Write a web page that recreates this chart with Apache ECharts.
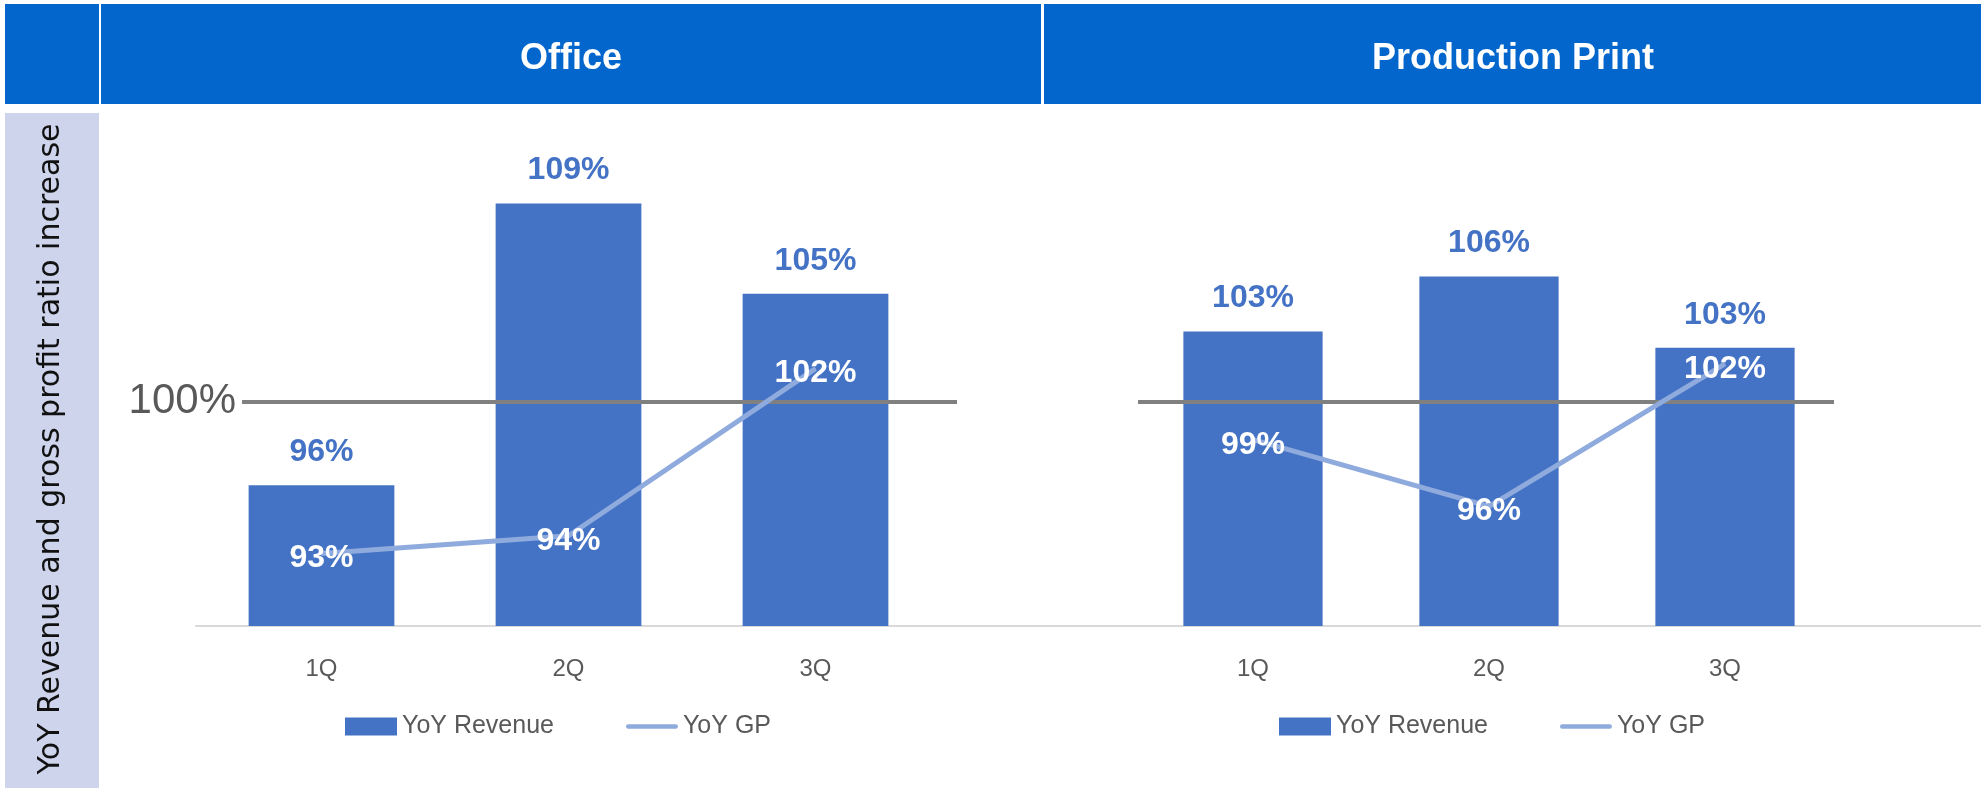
<!DOCTYPE html>
<html>
<head>
<meta charset="utf-8">
<script src="https://cdn.jsdelivr.net/npm/echarts@6/dist/echarts.min.js"></script>
<style>
  html, body { margin: 0; padding: 0; background: #ffffff; }
  #chart { width: 1981px; height: 788px; }
</style>
</head>
<body>
<div id="chart"></div>
<script>
// ---- data ----
const categories = ['1Q', '2Q', '3Q'];
const officeRevenue = [96.2, 109.0, 104.9];
const officeGP = [93.1, 93.9, 101.5];
const ppRevenue = [103.3, 105.7, 102.6];
const ppGP = [98.6, 95.7, 101.9];
const panelTitles = ['Office', 'Production Print'];
const sideTitle = 'YoY Revenue and gross profit ratio increase';
const seriesNames = ['YoY Revenue', 'YoY GP'];
const refValue = 100;
const refLabel = '100%';

// ---- styling ----
const FONT = 'Liberation Sans, Arial, sans-serif';
const BAR_COLOR = '#4472C4';
const LINE_COLOR = '#8FAADC';
const HEADER_COLOR = '#0366CC';
const GREY_TEXT = '#595959';
const pct = p => Math.round(p.value) + '%';

const chart = echarts.init(document.getElementById('chart'), null, { renderer: 'canvas' });

const barLabel = {
  show: true, position: 'top', distance: 17, formatter: pct,
  color: BAR_COLOR, fontFamily: FONT, fontWeight: 'bold', fontSize: 32, lineHeight: 32
};
const lineLabel = {
  show: true, position: 'inside', offset: [0, 5], formatter: pct,
  color: '#ffffff', fontFamily: FONT, fontWeight: 'bold', fontSize: 32, lineHeight: 32
};
const catAxis = (gridIndex) => ({
  type: 'category', gridIndex, data: categories,
  axisLine: { show: false }, axisTick: { show: false },
  axisLabel: { color: GREY_TEXT, fontFamily: FONT, fontSize: 24, margin: 31 }
});
const hiddenValueAxis = (gridIndex, min, max) => ({
  type: 'value', gridIndex, min, max, show: false
});

const legendCommon = {
  orient: 'horizontal', itemWidth: 52, itemHeight: 18, itemGap: 72,
  textStyle: { color: GREY_TEXT, fontFamily: FONT, fontSize: 25 },
  selectedMode: false,
  data: [
    { name: seriesNames[0], icon: 'rect' },
    { name: seriesNames[1], icon: 'path://M2.5,0 H53.5 A2.5,2.5 0 0 1 53.5,5 H2.5 A2.5,2.5 0 0 1 2.5,0 Z', itemStyle: { color: LINE_COLOR } }
  ]
};

const option = {
  backgroundColor: '#ffffff',
  animation: false,
  graphic: [
    { type: 'rect', shape: { x: 5, y: 4, width: 94, height: 100 }, style: { fill: HEADER_COLOR }, z: -10 },
    { type: 'rect', shape: { x: 101, y: 4, width: 940, height: 100 }, style: { fill: HEADER_COLOR }, z: -10 },
    { type: 'rect', shape: { x: 1044, y: 4, width: 937, height: 100 }, style: { fill: HEADER_COLOR }, z: -10 },
    { type: 'rect', shape: { x: 5, y: 113, width: 94, height: 675 }, style: { fill: '#CDD4EB' }, z: -10 },
    { type: 'text', x: 571, y: 59, style: { text: panelTitles[0], fill: '#ffffff', font: 'bold 36px ' + FONT, textAlign: 'center', textVerticalAlign: 'middle', align: 'center', verticalAlign: 'middle' } },
    { type: 'text', x: 1513, y: 59, style: { text: panelTitles[1], fill: '#ffffff', font: 'bold 36px ' + FONT, textAlign: 'center', textVerticalAlign: 'middle', align: 'center', verticalAlign: 'middle' } },
    { type: 'text', x: 51, y: 449, rotation: Math.PI / 2, style: { text: sideTitle, fill: '#111111', font: '30px DejaVu Sans, sans-serif', textAlign: 'center', textVerticalAlign: 'middle', align: 'center', verticalAlign: 'middle' } }
  ],
  grid: [
    { left: 198, width: 741, top: 186, height: 440 },   // 0 office
    { left: 1135, width: 708, top: 166, height: 460 },  // 1 production print
    { left: 196, right: 0, top: 186, height: 440 },     // 2 shared baseline
    { left: 242, width: 715, top: 186, height: 440 },   // 3 office 100% line
    { left: 1138, width: 696, top: 186, height: 440 }   // 4 PP 100% line (shared reference level)
  ],
  xAxis: [
    catAxis(0),
    catAxis(1),
    { type: 'value', gridIndex: 2, min: 0, max: 1, axisLine: { show: true, lineStyle: { color: '#D9D9D9', width: 2 } }, axisTick: { show: false }, axisLabel: { show: false }, splitLine: { show: false } },
    hiddenValueAxis(3, 0, 1),
    hiddenValueAxis(4, 0, 1)
  ],
  yAxis: [
    hiddenValueAxis(0, 89.8, 109.8),
    hiddenValueAxis(1, 90.5, 110.5),
    hiddenValueAxis(2, 0, 1),
    hiddenValueAxis(3, 89.8, 109.8),
    hiddenValueAxis(4, 89.8, 109.8)
  ],
  legend: [
    Object.assign({ left: 340, top: 709 }, legendCommon),
    Object.assign({ left: 1274, top: 709 }, legendCommon)
  ],
  series: [
    { name: seriesNames[0], type: 'bar', xAxisIndex: 0, yAxisIndex: 0, data: officeRevenue, barWidth: '59%', itemStyle: { color: BAR_COLOR }, label: barLabel, z: 2 },
    { name: seriesNames[0], type: 'bar', xAxisIndex: 1, yAxisIndex: 1, data: ppRevenue, barWidth: '59%', itemStyle: { color: BAR_COLOR }, label: barLabel, z: 2 },
    {
      type: 'line', xAxisIndex: 3, yAxisIndex: 3, data: [], z: 3, silent: true,
      markLine: { silent: true, symbol: ['none', 'none'], lineStyle: { color: '#808080', width: 4, type: 'solid' },
        label: { show: true, position: 'start', distance: 6, formatter: refLabel, color: GREY_TEXT, fontFamily: FONT, fontSize: 42 },
        data: [{ yAxis: refValue }] }
    },
    {
      type: 'line', xAxisIndex: 4, yAxisIndex: 4, data: [], z: 3, silent: true,
      markLine: { silent: true, symbol: ['none', 'none'], lineStyle: { color: '#808080', width: 4, type: 'solid' },
        label: { show: false }, data: [{ yAxis: refValue }] }
    },
    { name: seriesNames[1], type: 'line', xAxisIndex: 0, yAxisIndex: 0, data: officeGP, symbol: 'circle', symbolSize: 1, showSymbol: true, itemStyle: { color: LINE_COLOR }, lineStyle: { color: LINE_COLOR, width: 5 }, label: lineLabel, z: 5 },
    { name: seriesNames[1], type: 'line', xAxisIndex: 1, yAxisIndex: 1, data: ppGP, symbol: 'circle', symbolSize: 1, showSymbol: true, itemStyle: { color: LINE_COLOR }, lineStyle: { color: LINE_COLOR, width: 5 }, label: lineLabel, z: 5 }
  ]
};
chart.setOption(option);
</script>
</body>
</html>
